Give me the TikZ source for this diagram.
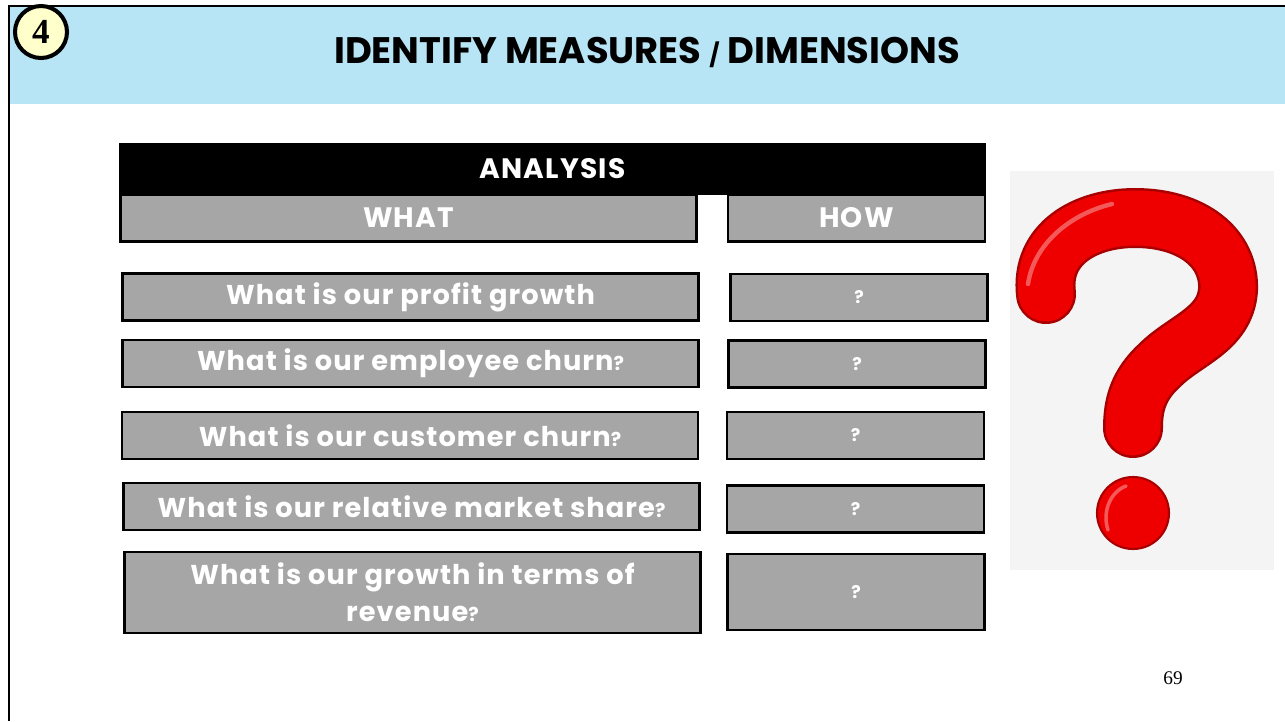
\documentclass[tikz,border=0pt]{standalone}
\usepackage{fontspec}
\setmainfont{Liberation Serif}
\newfontfamily\titlefont{Poppins}
\newfontfamily\headfont{Poppins}[LetterSpace=4]

\definecolor{bandblue}{HTML}{B8E5F5}
\definecolor{boxgray}{HTML}{A6A6A6}
\definecolor{badgeyellow}{HTML}{FFFFCC}
\definecolor{qred}{HTML}{EE0000}
\definecolor{qdark}{HTML}{A80000}
\definecolor{qback}{HTML}{F4F4F4}

\newcommand{\smallq}{{\fontsize{11}{12}\selectfont ?}}

\tikzset{
  whatbox/.style={draw=black, line width=1.3pt, fill=boxgray, text=white,
    minimum width=11.52cm, minimum height=0.94cm, inner sep=0pt, align=center,
    font=\headfont\bfseries\fontsize{15.5}{21}\selectfont},
  howbox/.style={whatbox, minimum width=5.14cm,
    font=\headfont\bfseries\fontsize{10}{12}\selectfont},
  headbox/.style={whatbox, font=\headfont\bfseries\fontsize{16}{18}\selectfont}
}

\begin{document}
\begin{tikzpicture}[x=0.02cm, y=-0.02cm]
    \useasboundingbox (0,0) rectangle (1285,721);

    % title band and frame
    \fill[bandblue] (9,6) rectangle (1285,104);
    \draw[line width=1.2pt] (9,6) -- (1285,6);
    \draw[line width=1.7pt] (9,5) -- (9,721);
    \node[circle, draw, line width=2.3pt, fill=badgeyellow, minimum size=1.04cm, inner sep=0pt,
      font=\bfseries\fontsize{20}{20}\selectfont] (badge) at (41,32) {4};
    \node[font=\titlefont\bfseries\fontsize{21}{24}\selectfont] (title) at (647,52)
      {IDENTIFY MEASURES {\fontsize{13}{14}\selectfont/} DIMENSIONS};

    % table head
    \node[headbox, fill=black, minimum width=17.3cm, minimum height=1cm] (analysis) at (552.5,169) {ANALYSIS};
    \node[headbox] (what) at (408.5,218) {WHAT};
    \node[headbox, minimum width=5.14cm] (how) at (856.5,218) {HOW};

    % questions
    \node[whatbox] (w1) at (410.5,297) {What is our profit growth};
    \node[howbox] (h1) at (859,297.5) {?};
    \node[whatbox] (w2) at (410.5,363.5) {What is our employee churn\smallq};
    \node[howbox] (h2) at (857,364) {?};
    \node[whatbox] (w3) at (410,435.5) {What is our customer churn\smallq};
    \node[howbox] (h3) at (855.5,435.5) {?};
    \node[whatbox] (w4) at (411.5,506.5) {What is our relative market share\smallq};
    \node[howbox] (h4) at (855.5,509) {?};
    \node[whatbox, minimum height=1.62cm] (w5) at (412.5,592.5) {What is our growth in terms of\\revenue\smallq};
    \node[howbox, minimum height=1.52cm] (h5) at (856,592) {?};

    % big question mark
    \fill[qback] (1010,171) rectangle (1274,570);
    \draw[qdark, line width=1.2cm, line cap=round]
      (1046,294) .. controls (1040,244) and (1085,218) .. (1135,218)
      .. controls (1192,218) and (1230,248) .. (1228,290)
      .. controls (1225,330) and (1185,340) .. (1160,365)
      .. controls (1138,385) and (1133,405) .. (1133,428);
    \draw[qred, line width=1.1cm, line cap=round]
      (1046,294) .. controls (1040,244) and (1085,218) .. (1135,218)
      .. controls (1192,218) and (1230,248) .. (1228,290)
      .. controls (1225,330) and (1185,340) .. (1160,365)
      .. controls (1138,385) and (1133,405) .. (1133,428);
    \draw[white, opacity=0.35, line width=2.5pt, line cap=round]
      (1028,284) .. controls (1034,244) and (1070,214) .. (1112,204);
    \draw[qdark, fill=qred, line width=1.2pt] (1133,513) circle[radius=0.72cm];
    \draw[white, opacity=0.35, line width=2pt, line cap=round]
      (1108,530) .. controls (1102,512) and (1110,492) .. (1126,486);

    \node[font=\fontsize{11}{12}\selectfont] (page) at (1173,678) {69};
\end{tikzpicture}
\end{document}
